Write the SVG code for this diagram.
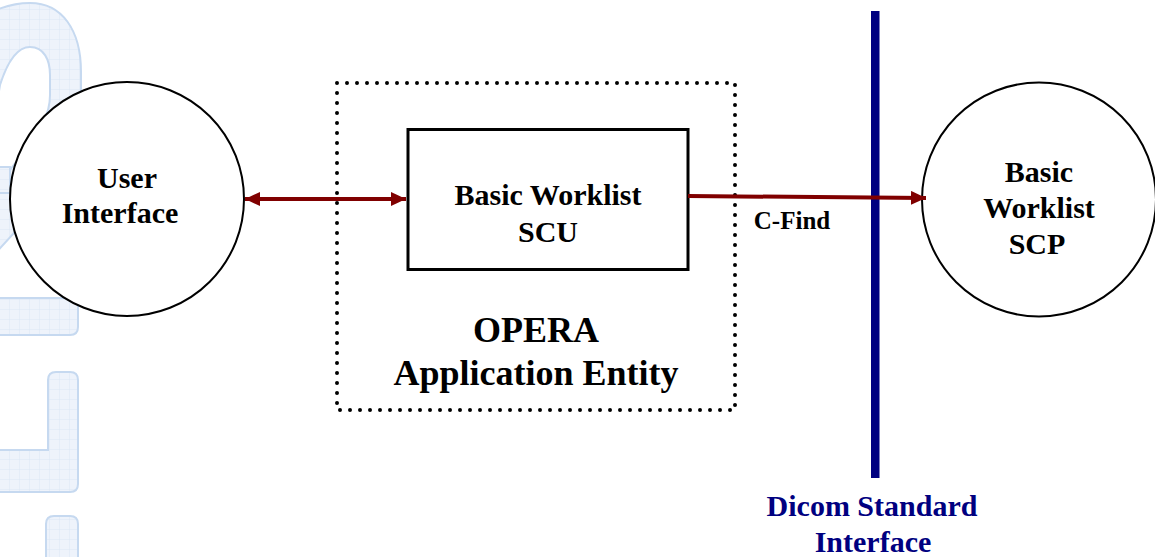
<svg xmlns="http://www.w3.org/2000/svg" width="1155" height="557" viewBox="0 0 1155 557">
  <style>
    .wm { fill: url(#grid); stroke: #c6d9f0; stroke-width: 2; }
    .node { fill: #ffffff; stroke: #000000; stroke-width: 2; }
    .box { fill: #ffffff; stroke: #000000; stroke-width: 3; }
    .lbl { font-family: "Liberation Serif", "Times New Roman", serif; font-weight: bold; fill: #000000; text-anchor: middle; }
    .blue { fill: #000080; }
    .conn { stroke: #800000; stroke-width: 4; fill: none; }
  </style>
  <defs>
    <pattern id="grid" width="10" height="10" patternUnits="userSpaceOnUse">
      <rect width="10" height="10" fill="#eef3fb"/>
      <path d="M10,0 V10 M0,10 H10" stroke="#dce7f5" stroke-width="1" fill="none"/>
    </pattern>
    <marker id="arrow" viewBox="0 0 15 14" refX="15" refY="7" markerWidth="15" markerHeight="14" markerUnits="userSpaceOnUse" orient="auto-start-reverse">
      <path d="M0,0 L15,7 L0,14 Z" fill="#800000"/>
    </marker>
  </defs>
  <rect width="1155" height="557" fill="#ffffff"/>

  <!-- watermark -->
  <g id="watermark">
    <path class="wm" fill-rule="evenodd" d="M-60,90 C-60,35 -10,3 30,3 C62,3 81,30 81,72 L81,130 C81,160 60,185 35,210 L-20,270 L-20,298 L70,298 Q78,298 78,306 L78,327 Q78,335 70,335 L-60,335 Z M0,85 C8,60 18,47 30,47 C44,47 50,60 50,75 L50,95 C50,115 40,130 25,150 L-20,210 Z"/>
    <rect class="wm" x="-10" y="167" width="20" height="26"/>
    <path class="wm" d="M56,372 L70,372 Q78,372 78,380 L78,484 Q78,492 70,492 L-10,492 L-10,450 L48,450 L48,380 Q48,372 56,372 Z"/>
    <path class="wm" d="M54,516 L70,516 Q78,516 78,524 L78,570 L46,570 L46,524 Q46,516 54,516 Z"/>
  </g>

  <!-- Dicom standard interface line -->
  <g id="dicom-interface">
    <rect x="871" y="11" width="8.5" height="467" fill="#000080"/>
    <text class="lbl blue" font-size="30" x="872" y="516">Dicom Standard</text>
    <text class="lbl blue" font-size="30" x="873" y="552">Interface</text>
  </g>

  <!-- OPERA application entity -->
  <g id="opera-ae">
    <rect x="337" y="83" width="398" height="327" fill="none" stroke="#000000" stroke-width="4" stroke-linecap="round" stroke-dasharray="0 10"/>
    <text class="lbl" font-size="36" x="536" y="342">OPERA</text>
    <text class="lbl" font-size="36" x="536" y="385">Application Entity</text>
  </g>

  <g id="user-interface">
    <circle class="node" cx="127" cy="199" r="117"/>
    <text class="lbl" font-size="30" x="127" y="188">User</text>
    <text class="lbl" font-size="30" x="120" y="223">Interface</text>
  </g>

  <g id="worklist-scu">
    <rect class="box" x="408" y="129.5" width="280" height="140"/>
    <text class="lbl" font-size="30" x="548" y="205">Basic Worklist</text>
    <text class="lbl" font-size="30" x="548" y="242">SCU</text>
  </g>

  <g id="worklist-scp">
    <circle class="node" cx="1039" cy="199.5" r="117"/>
    <text class="lbl" font-size="30" x="1039" y="182">Basic</text>
    <text class="lbl" font-size="30" x="1039" y="218">Worklist</text>
    <text class="lbl" font-size="30" x="1037" y="254">SCP</text>
  </g>

  <g id="connectors">
    <line class="conn" x1="245" y1="199" x2="406" y2="199" marker-start="url(#arrow)" marker-end="url(#arrow)"/>
    <line class="conn" x1="688" y1="196" x2="926" y2="198" marker-end="url(#arrow)"/>
    <text class="lbl" font-size="25" x="792" y="229">C-Find</text>
  </g>
</svg>
